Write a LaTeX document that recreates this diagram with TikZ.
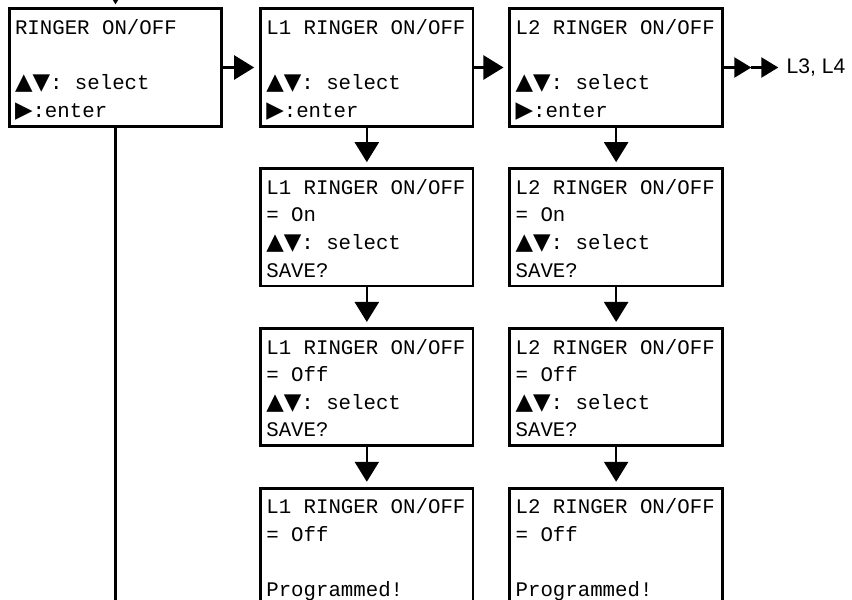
\documentclass[tikz,border=0pt]{standalone}
\usepackage{fontspec}
\setmonofont{Liberation Mono}[WordSpace={1,0,0}]
\newfontfamily\keyfont{DejaVu Sans}[Scale=1.1]
\newfontfamily\notefont{Liberation Sans}
\usetikzlibrary{arrows.meta}
\usetikzlibrary{positioning}

\newcommand{\selkeys}{{\keyfont ▲▼}}
\newcommand{\enterkey}{{\keyfont ▶}}

\begin{document}
\begin{tikzpicture}[
            node distance=0.79cm and 0.7cm,
            screen/.style={rectangle, draw=black, line width=1.6pt, minimum width=4.25cm, minimum height=2.35cm, inner xsep=0.115cm, inner ysep=0pt, text width=4.02cm, align=left, font=\fontsize{11.8}{15.7}\selectfont\ttfamily, execute at begin node={\spaceskip=0.6em\xspaceskip=0.6em\relax\rule{0pt}{12.5pt}}, execute at end node={\rule[-3pt]{0pt}{3pt}}},
            flow_arrow/.style={-{Triangle[length=0.4cm, width=0.48cm]}, line width=1.4pt, shorten >=0.1cm},
            more_arrow/.style={-{Triangle[length=0.34cm, width=0.4cm]}, line width=1.4pt},
            feed_line/.style={line width=1.4pt}
        ]
        \useasboundingbox (0,0) rectangle (17.04,-11.98);

        % Main menu
        \node[screen] (ringer_menu) at (2.31,-1.35) {RINGER ON/OFF\\\mbox{}\\\selkeys: select\\\enterkey:enter};

        % Line 1 column
        \node[screen, right=0.72cm of ringer_menu] (l1_menu) {L1 RINGER ON/OFF\\\mbox{}\\\selkeys: select\\\enterkey:enter};
        \node[screen, below=of l1_menu] (l1_on) {L1 RINGER ON/OFF\\= On\\\selkeys: select\\SAVE?};
        \node[screen, below=of l1_on] (l1_off) {L1 RINGER ON/OFF\\= Off\\\selkeys: select\\SAVE?};
        \node[screen, below=of l1_off] (l1_done) {L1 RINGER ON/OFF\\= Off\\\mbox{}\\Programmed!};

        % Line 2 column
        \node[screen, right=0.68cm of l1_menu] (l2_menu) {L2 RINGER ON/OFF\\\mbox{}\\\selkeys: select\\\enterkey:enter};
        \node[screen, below=of l2_menu] (l2_on) {L2 RINGER ON/OFF\\= On\\\selkeys: select\\SAVE?};
        \node[screen, below=of l2_on] (l2_off) {L2 RINGER ON/OFF\\= Off\\\selkeys: select\\SAVE?};
        \node[screen, below=of l2_off] (l2_done) {L2 RINGER ON/OFF\\= Off\\\mbox{}\\Programmed!};

        % Further lines
        \coordinate[right=0.55cm of l2_menu.east] (relay);
        \node[right=0.6cm of relay, inner sep=0.1cm, font=\fontsize{12}{14}\selectfont\notefont] (more_label) {L3, L4};

        % Entry and exit of the main menu
        \coordinate[above=0.6cm of ringer_menu.north] (entry);
        \coordinate[below=10cm of ringer_menu.south] (exit);
        \draw[flow_arrow, shorten >=0.06cm] (entry) -- (ringer_menu.north);
        \draw[feed_line] (ringer_menu.south) -- (exit);

        % Horizontal arrows
        \draw[flow_arrow] (ringer_menu.east) -- (l1_menu.west);
        \draw[flow_arrow] (l1_menu.east) -- (l2_menu.west);
        \draw[more_arrow] (l2_menu.east) -- (relay);
        \draw[more_arrow, shorten >=0.06cm] (relay) -- (more_label.west);

        % Vertical arrows (L1)
        \draw[flow_arrow] (l1_menu.south) -- (l1_on.north);
        \draw[flow_arrow] (l1_on.south) -- (l1_off.north);
        \draw[flow_arrow] (l1_off.south) -- (l1_done.north);

        % Vertical arrows (L2)
        \draw[flow_arrow] (l2_menu.south) -- (l2_on.north);
        \draw[flow_arrow] (l2_on.south) -- (l2_off.north);
        \draw[flow_arrow] (l2_off.south) -- (l2_done.north);

    \end{tikzpicture}
\end{document}
